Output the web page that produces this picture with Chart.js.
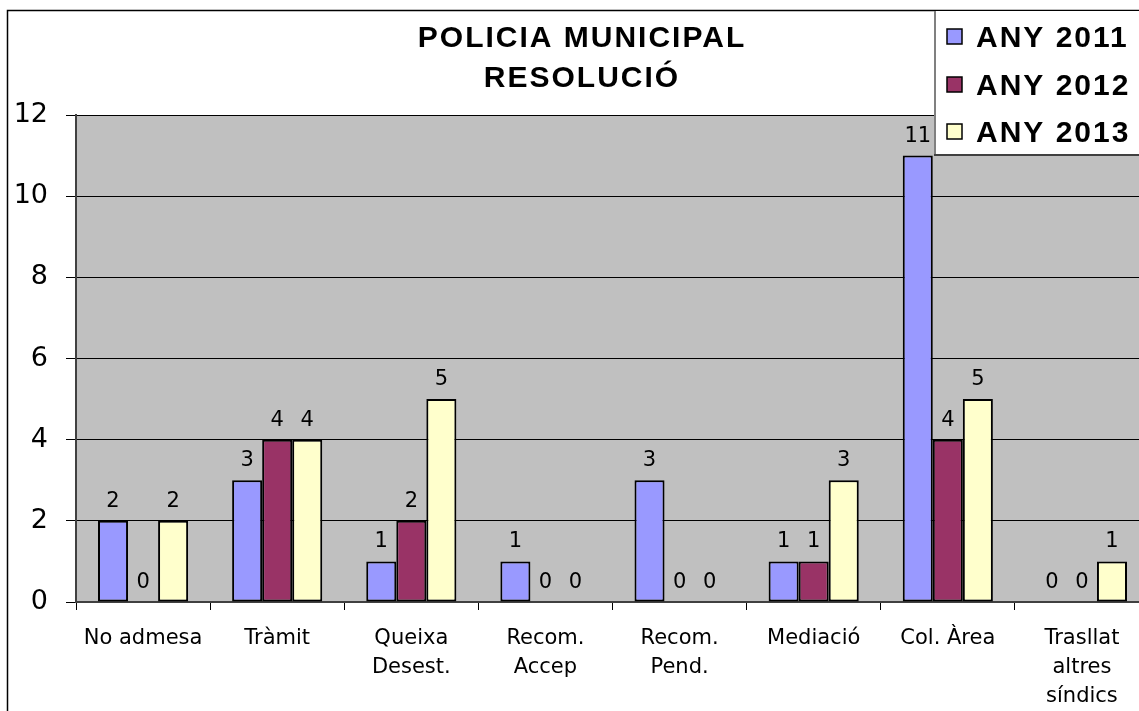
<!DOCTYPE html>
<html>
<head>
<meta charset="utf-8">
<script src="https://cdn.jsdelivr.net/npm/chart.js@4.4.0/dist/chart.umd.min.js"></script>
<style>
  body { margin: 0; background: #fff; overflow: hidden; width: 1139px; height: 711px; }
  #wrap { position: absolute; left: 0; top: 0; width: 1139px; height: 711px; overflow: hidden; }
</style>
</head>
<body>
<div id="wrap"><canvas id="chart" width="1160" height="711"></canvas></div>
<script>
const categories = ['No admesa', 'Tràmit', ['Queixa', 'Desest.'], ['Recom.', 'Accep'], ['Recom.', 'Pend.'], 'Mediació', 'Col. Àrea', ['Trasllat', 'altres', 'síndics']]
const any2011 = [2, 3, 1, 1, 3, 1, 11, 0]
const any2012 = [0, 4, 2, 0, 0, 1, 4, 0]
const any2013 = [2, 4, 5, 0, 0, 3, 5, 1]
const seriesNames = ['ANY 2011', 'ANY 2012', 'ANY 2013']
const titleLines = ['POLICIA MUNICIPAL', 'RESOLUCIÓ']
const yTicks = [0, 2, 4, 6, 8, 10, 12]

const colors = ['#9999FF', '#993366', '#FFFFCC']

// grey plot background + outer frame
const backdrop = {
  id: 'backdrop',
  beforeDraw(chart) {
    const { ctx, chartArea: a } = chart
    ctx.save()
    ctx.fillStyle = '#C0C0C0'
    ctx.fillRect(a.left, a.top, a.right - a.left, a.bottom - a.top)
    ctx.strokeStyle = '#000'
    ctx.lineWidth = 1.5
    ctx.beginPath()
    ctx.moveTo(7.5, 711)
    ctx.lineTo(7.5, 10.5)
    ctx.lineTo(1160, 10.5)
    ctx.stroke()
    ctx.restore()
  }
}

// value labels above every bar (zeros too)
const valueLabels = {
  id: 'valueLabels',
  afterDatasetsDraw(chart) {
    const { ctx } = chart
    ctx.save()
    ctx.font = '21px "DejaVu Sans"'
    ctx.fillStyle = '#000'
    ctx.textAlign = 'center'
    ctx.textBaseline = 'alphabetic'
    chart.data.datasets.forEach((ds, i) => {
      chart.getDatasetMeta(i).data.forEach((bar, j) => {
        ctx.fillText(String(ds.data[j]), bar.x, bar.y - 14)
      })
    })
    ctx.restore()
  }
}

// title and boxed legend like the original sheet
const decor = {
  id: 'decor',
  afterDraw(chart) {
    const { ctx } = chart
    ctx.save()
    ctx.fillStyle = '#000'
    ctx.textAlign = 'center'
    ctx.font = 'bold 30px "Liberation Sans"'
    ctx.letterSpacing = '2px'
    ctx.fillText(titleLines[0], 582, 47)
    ctx.fillText(titleLines[1], 582, 87)

    // legend box
    ctx.fillStyle = '#fff'
    ctx.fillRect(935, 11, 230, 144)
    ctx.strokeStyle = '#808080'
    ctx.lineWidth = 2
    ctx.beginPath()
    ctx.moveTo(935, 11)
    ctx.lineTo(935, 155)
    ctx.stroke()
    ctx.strokeStyle = '#404040'
    ctx.beginPath()
    ctx.moveTo(934, 155)
    ctx.lineTo(1160, 155)
    ctx.stroke()

    const rows = [37, 85, 132]
    ctx.textAlign = 'left'
    ctx.font = 'bold 30px "Liberation Sans"'
    ctx.letterSpacing = '2px'
    seriesNames.forEach((name, i) => {
      ctx.fillStyle = colors[i]
      ctx.fillRect(947, rows[i] - 8, 15, 15)
      ctx.strokeStyle = '#000'
      ctx.lineWidth = 1.5
      ctx.strokeRect(947, rows[i] - 8, 15, 15)
      ctx.fillStyle = '#000'
      ctx.fillText(name, 976, rows[i] + 10)
    })
    ctx.restore()
  }
}

new Chart(document.getElementById('chart'), {
  type: 'bar',
  data: {
    labels: categories,
    datasets: [any2011, any2012, any2013].map((d, i) => ({
      label: seriesNames[i],
      data: d,
      backgroundColor: colors[i],
      borderColor: '#000',
      borderWidth: 2,
      borderSkipped: false,
      categoryPercentage: 0.672,
      barPercentage: 1.0
    }))
  },
  options: {
    responsive: false,
    animation: false,
    devicePixelRatio: 1,
    layout: { padding: { top: 115, right: 11, left: 0, bottom: 0 } },
    plugins: {
      legend: { display: false },
      title: { display: false },
      tooltip: { enabled: false }
    },
    scales: {
      x: {
        grid: { offset: true, drawOnChartArea: false, color: '#000', tickLength: 8 },
        border: { color: '#404040', width: 2 },
        ticks: {
          color: '#000',
          font: { family: 'DejaVu Sans', size: 21, lineHeight: 1.38 },
          padding: 14,
          maxRotation: 0,
          autoSkip: false
        },
        afterFit(scale) { scale.height = 109 }
      },
      y: {
        min: 0,
        max: 12,
        afterBuildTicks(scale) { scale.ticks = yTicks.map(v => ({ value: v })) },
        grid: { color: '#000', lineWidth: 1, tickLength: 10 },
        border: { color: '#404040', width: 2 },
        ticks: {
          color: '#000',
          font: { family: 'DejaVu Sans', size: 27 },
          padding: 18
        },
        afterFit(scale) { scale.width = 76 }
      }
    }
  },
  plugins: [backdrop, valueLabels, decor]
})
</script>
</body>
</html>
